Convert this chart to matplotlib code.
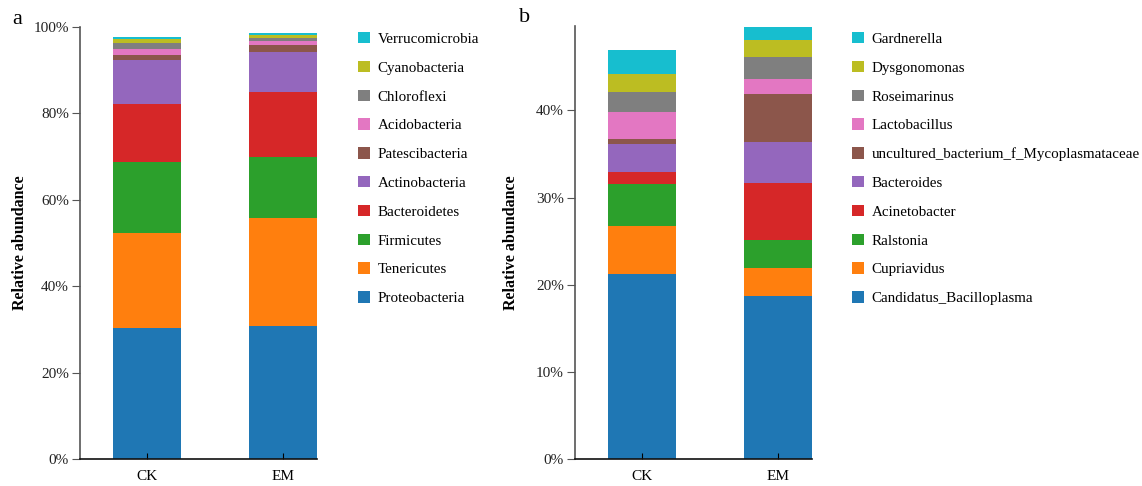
import matplotlib
matplotlib.use("Agg")
import matplotlib.pyplot as plt
import numpy as np
from matplotlib.patches import Patch
from matplotlib.ticker import FuncFormatter

plt.rcParams["font.family"] = ["Liberation Serif", "DejaVu Serif"]

groups = ["CK", "EM"]
colors = ["#1f77b4", "#ff7f0e", "#2ca02c", "#d62728", "#9467bd",
          "#8c564b", "#e377c2", "#7f7f7f", "#bcbd22", "#17becf"]

# panel a: phylum level (%), bottom to top
phyla = ["Proteobacteria", "Tenericutes", "Firmicutes", "Bacteroidetes", "Actinobacteria",
         "Patescibacteria", "Acidobacteria", "Chloroflexi", "Cyanobacteria", "Verrucomicrobia"]
phyla_ck = [30.3, 21.9, 16.5, 13.5, 10.0, 1.2, 1.4, 1.5, 0.9, 0.5]
phyla_em = [30.9, 24.9, 14.1, 15.0, 9.2, 1.6, 1.0, 0.7, 0.6, 0.6]

# panel b: genus level (%), bottom to top
genera = ["Candidatus_Bacilloplasma", "Cupriavidus", "Ralstonia", "Acinetobacter", "Bacteroides",
          "uncultured_bacterium_f_Mycoplasmataceae", "Lactobacillus", "Roseimarinus",
          "Dysgonomonas", "Gardnerella"]
genera_ck = [21.2, 5.5, 4.9, 1.3, 3.2, 0.6, 3.1, 2.3, 2.1, 2.7]
genera_em = [18.7, 3.2, 3.2, 6.6, 4.7, 5.5, 1.7, 2.5, 2.0, 1.5]

W, H = 1142, 486
fig = plt.figure(figsize=(W / 100, H / 100), dpi=100)


def px_axes(x0, x1, y_top, y_bot):
    return fig.add_axes([x0 / W, 1 - y_bot / H, (x1 - x0) / W, (y_bot - y_top) / H])


def stacked(ax, names, ck, em, ylim, yticks, label_x, legend_x):
    x = np.arange(len(groups))
    data = np.array([ck, em]).T
    bottom = np.zeros(len(groups))
    for name, row, c in zip(names, data, colors):
        ax.bar(x, row, width=0.5, bottom=bottom, color=c, edgecolor="none", label=name)
        bottom += row
    ax.set_xlim(-0.49, 1.25)
    ax.set_ylim(*ylim)
    ax.set_xticks(x)
    ax.set_xticklabels(groups, fontsize=11)
    ax.set_yticks(yticks)
    ax.yaxis.set_major_formatter(FuncFormatter(lambda v, p: f"{v:.0f}%"))
    ax.tick_params(axis="y", direction="out", length=6, pad=2, labelsize=11,
                   colors="#555555", labelcolor="#222222")
    ax.tick_params(axis="x", direction="in", length=4, pad=8)
    ax.set_ylabel("Relative abundance", fontsize=11.5, fontweight="bold")
    ax.yaxis.set_label_coords(label_x, 0.5)
    for s in ["top", "right"]:
        ax.spines[s].set_visible(False)
    ax.spines["left"].set_color("#555555")
    ax.spines["left"].set_linewidth(1.2)
    ax.spines["bottom"].set_color("#111111")
    ax.spines["bottom"].set_linewidth(1.2)

    handles = [Patch(facecolor=c, edgecolor="none") for c in colors][::-1]
    ax.legend(handles, names[::-1], loc="upper left", frameon=False,
              bbox_to_anchor=(legend_x / W, 1 - 26 / H), bbox_transform=fig.transFigure,
              fontsize=10.8, handlelength=0.8, handleheight=0.8, handletextpad=0.5,
              labelspacing=0.99, borderaxespad=0)


ax_a = px_axes(80, 317, 26.7, 459.3)
stacked(ax_a, phyla, phyla_ck, phyla_em, (0, 100),
        [0, 20, 40, 60, 80, 100], -0.22, 352)
fig.text(12 / W, 1 - 20 / H, "a", fontsize=16, va="center", ha="left")

ax_b = px_axes(575, 812, 25.7, 459.3)
stacked(ax_b, genera, genera_ck, genera_em, (0, 49.7),
        [0, 10, 20, 30, 40], -0.235, 846)
fig.text(519 / W, 1 - 18 / H, "b", fontsize=16, va="center", ha="left")

fig.savefig("out.png", dpi=100)
